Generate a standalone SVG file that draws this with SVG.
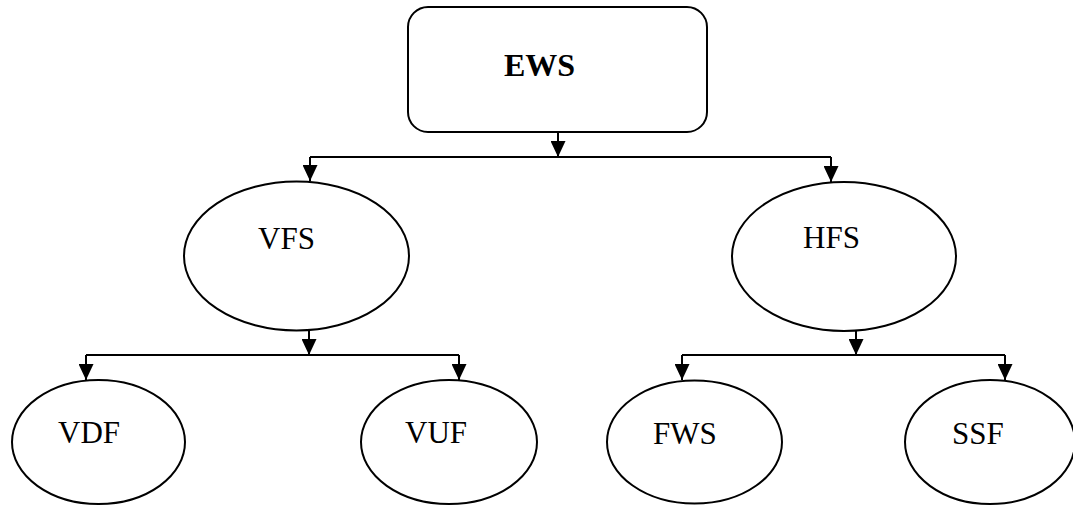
<svg xmlns="http://www.w3.org/2000/svg" width="1073" height="505" viewBox="0 0 1073 505">
<defs>
<style>
.node{fill:#fff;stroke:#000;stroke-width:2}
.lbl{font-family:"Liberation Serif","Times New Roman",serif;font-size:31px;fill:#000}
.bold{font-weight:bold;font-size:32px}
.conn{fill:none;stroke:#000;stroke-width:2}
</style>
<marker id="arr" viewBox="0 0 16 15" refX="16" refY="7.5" markerWidth="16" markerHeight="15" markerUnits="userSpaceOnUse" orient="auto">
<path d="M0,0 L16,7.5 L0,15 Z" fill="#000"/>
</marker>
</defs>
<rect width="1073" height="505" fill="#fff"/>
<g id="EWS"><rect class="node" x="408" y="7" width="299" height="125" rx="20" ry="20"/><text class="lbl bold" x="504" y="76">EWS</text></g>
<g id="VFS"><ellipse class="node" cx="296.5" cy="256" rx="112.5" ry="74.5"/><text class="lbl" x="258" y="249">VFS</text></g>
<g id="HFS"><ellipse class="node" cx="844" cy="256.5" rx="112" ry="74.5"/><text class="lbl" x="803" y="248">HFS</text></g>
<g id="VDF"><ellipse class="node" cx="98.5" cy="442" rx="86.5" ry="62"/><text class="lbl" x="58" y="443">VDF</text></g>
<g id="VUF"><ellipse class="node" cx="449" cy="442" rx="88" ry="62"/><text class="lbl" x="405" y="443">VUF</text></g>
<g id="FWS"><ellipse class="node" cx="694.5" cy="442" rx="87.5" ry="61.5"/><text class="lbl" x="653" y="444">FWS</text></g>
<g id="SSF"><ellipse class="node" cx="990" cy="442" rx="85" ry="62"/><text class="lbl" x="952" y="444">SSF</text></g>
<g id="connectors">
<path class="conn" d="M558,132 V157" marker-end="url(#arr)"/>
<path class="conn" d="M310,157 H831"/>
<path class="conn" d="M310,157 V181" marker-end="url(#arr)"/>
<path class="conn" d="M831,157 V182" marker-end="url(#arr)"/>
<path class="conn" d="M309,330 V355" marker-end="url(#arr)"/>
<path class="conn" d="M86,355 H459"/>
<path class="conn" d="M86,355 V380" marker-end="url(#arr)"/>
<path class="conn" d="M459,355 V380" marker-end="url(#arr)"/>
<path class="conn" d="M856,331 V355" marker-end="url(#arr)"/>
<path class="conn" d="M682,355 H1005"/>
<path class="conn" d="M682,355 V380" marker-end="url(#arr)"/>
<path class="conn" d="M1005,355 V380" marker-end="url(#arr)"/>
</g>
</svg>
